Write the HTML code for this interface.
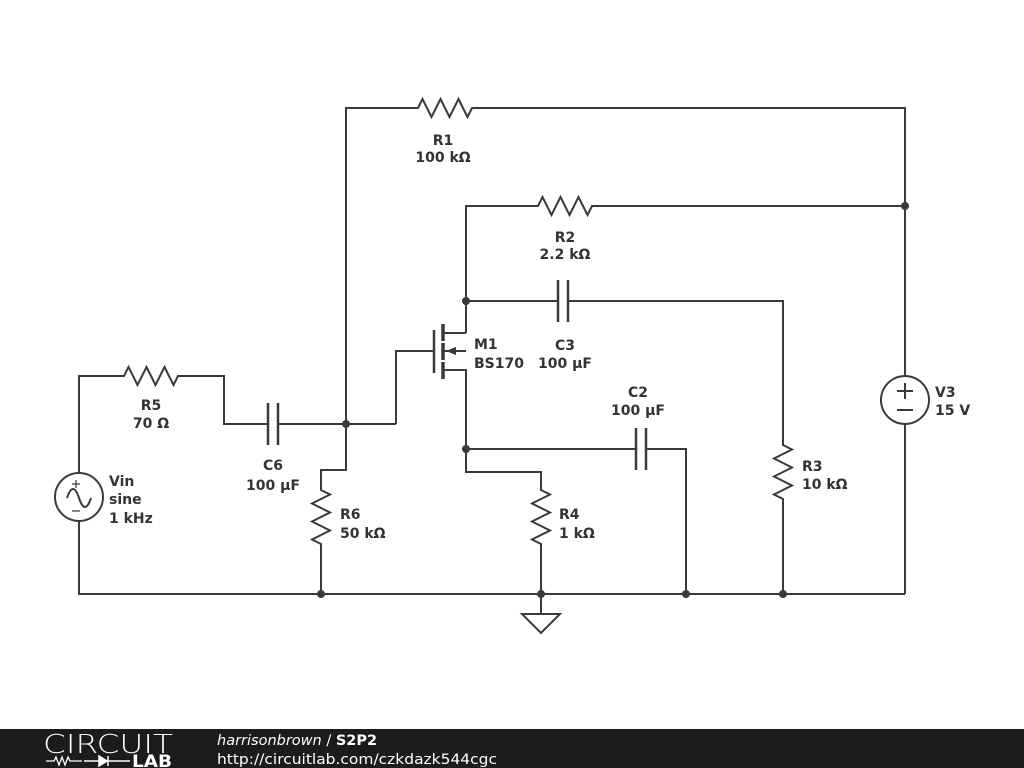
<!DOCTYPE html>
<html><head><meta charset="utf-8"><style>
body{margin:0;width:1024px;height:768px;overflow:hidden;background:#fff;font-family:"Liberation Sans",sans-serif}
svg{position:absolute;left:0;top:0}
.t{font-family:"DejaVu Sans","Liberation Sans",sans-serif;font-weight:bold;font-size:14px;fill:#333}
</style></head><body>
<svg width="1024" height="768" viewBox="0 0 1024 768">
<g stroke="#3a3a3a" stroke-width="2" fill="none" stroke-linejoin="miter">
<path d="M346 424V108H418l4.5-9 9 18 9-18 9 18 9-18 9 18 4.5-9H905V376M905 424V594"/>
<path d="M466 333V206H538l4.5-9 9 18 9-18 9 18 9-18 9 18 4.5-9H905"/>
<path d="M466 301H558M568 301H783V445l9 4.5-18 9 18 9-18 9 18 9-18 9 9 4.5V594"/>
<path d="M558 280V322M568 280V322" stroke-width="2.5"/>
<path d="M434 330V373" stroke-width="2.5"/>
<path d="M443 324V341M443 343V360M443 362V379" stroke-width="3.5"/>
<path d="M443 333H466M443 351H466M443 370H466V472H541V490l9 4.5-18 9 18 9-18 9 18 9-18 9 9 4.5V594"/>
<path d="M434 351H396V424"/>
<path d="M466 449H636M646 449H686V594"/>
<path d="M636 428V470M646 428V470" stroke-width="2.5"/>
<path d="M79 473V376H124l4.5-9 9 18 9-18 9 18 9-18 9 18 4.5-9H224V424H268M278 424H396"/>
<path d="M268 403V445M278 403V445" stroke-width="2.5"/>
<path d="M346 424V470H321V490l9 4.5-18 9 18 9-18 9 18 9-18 9 9 4.5V594"/>
<path d="M79 521V594H905"/>
<circle cx="79" cy="497" r="24"/>
<path d="M67 498c4-12 8-12 12 0s8 12 12 0"/>
<circle cx="905" cy="400" r="24"/>
<path d="M897 391h16M905 383v16M897 410h16" stroke-width="2"/>
<path d="M72 484h8M76 480v8M72 511h8" stroke-width="1.2"/>
<path d="M541 594V614M522 614H560L541 633Z"/>
</g>
<path d="M446 351l10-4v8z" fill="#3a3a3a"/>
<g fill="#3a3a3a">
<circle cx="905" cy="206" r="4"/><circle cx="466" cy="301" r="4"/><circle cx="466" cy="449" r="4"/>
<circle cx="346" cy="424" r="4"/><circle cx="321" cy="594" r="4"/><circle cx="541" cy="594" r="4"/>
<circle cx="686" cy="594" r="4"/><circle cx="783" cy="594" r="4"/>
</g>
<g class="t">
<text x="443" y="145" text-anchor="middle">R1</text><text x="443" y="162" text-anchor="middle">100 kΩ</text>
<text x="565" y="242" text-anchor="middle">R2</text><text x="565" y="259" text-anchor="middle">2.2 kΩ</text>
<text x="565" y="350" text-anchor="middle">C3</text><text x="565" y="368" text-anchor="middle">100 µF</text>
<text x="474" y="349">M1</text><text x="474" y="368">BS170</text>
<text x="638" y="397" text-anchor="middle">C2</text><text x="638" y="415" text-anchor="middle">100 µF</text>
<text x="151" y="410" text-anchor="middle">R5</text><text x="151" y="428" text-anchor="middle">70 Ω</text>
<text x="273" y="470" text-anchor="middle">C6</text><text x="273" y="490" text-anchor="middle">100 µF</text>
<text x="340" y="519">R6</text><text x="340" y="538">50 kΩ</text>
<text x="559" y="519">R4</text><text x="559" y="538">1 kΩ</text>
<text x="802" y="471">R3</text><text x="802" y="489">10 kΩ</text>
<text x="935" y="397">V3</text><text x="935" y="415">15 V</text>
<text x="109" y="486">Vin</text><text x="109" y="504">sine</text><text x="109" y="523">1 kHz</text>
</g>
<rect x="0" y="729" width="1024" height="39" fill="#1c1c1c"/>
<text x="43" y="753" fill="#fff" font-family="DejaVu Sans,sans-serif" font-size="26" font-weight="200" textLength="130" lengthAdjust="spacingAndGlyphs">CIRCUIT</text>
<path d="M46 761h8l2-4 3 8 3-8 3 8 3-8 2 4h12" stroke="#fff" stroke-width="1.3" fill="none"/>
<path d="M84 761h46M99 756v10l8-5zM108 756v10" stroke="#fff" stroke-width="1.5" fill="#fff"/>
<text x="132" y="767" fill="#fff" font-family="DejaVu Sans,sans-serif" font-size="17" font-weight="bold" textLength="40" lengthAdjust="spacingAndGlyphs">LAB</text>
<text x="217" y="745" fill="#fff" font-family="DejaVu Sans,sans-serif" font-size="14.5"><tspan font-style="italic">harrisonbrown</tspan> / <tspan font-weight="bold">S2P2</tspan></text>
<text x="217" y="764" fill="#fff" font-family="DejaVu Sans,sans-serif" font-size="14.5" textLength="280" lengthAdjust="spacingAndGlyphs">http://circuitlab.com/czkdazk544cgc</text>
</svg>
</body></html>
